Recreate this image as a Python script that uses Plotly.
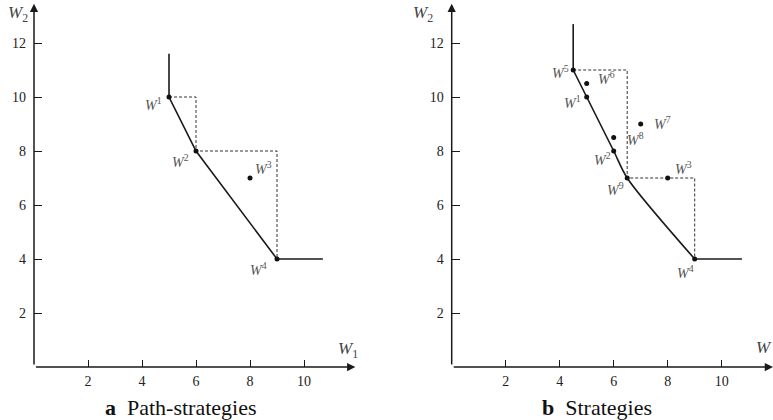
import plotly.graph_objects as go

W, H = 773, 420
PX_PER_UNIT = 27.0
SERIF = "Liberation Serif"

# ---- panel a: path-strategies ----
a_pts_x = [5, 6, 8, 9]
a_pts_y = [10, 8, 7, 4]
a_pts_sup = ["1", "2", "3", "4"]

a_front_x = [5, 5, 6, 9, 10.7]
a_front_y = [11.6, 10, 8, 4, 4]

a_stair_x = [5, 6, 6, 9, 9]
a_stair_y = [10, 10, 8, 8, 4]

# ---- panel b: strategies ----
b_pts_x = [5, 6, 8, 9, 4.5, 5, 7, 6, 6.5]
b_pts_y = [10, 8, 7, 4, 11, 10.5, 9, 8.5, 7]
b_pts_sup = ["1", "2", "3", "4", "5", "6", "7", "8", "9"]

b_ray_up_x = [4.5, 4.5]
b_ray_up_y = [12.7, 11]
b_curve_x = [4.5, 5, 6, 6.5, 9]
b_curve_y = [11, 10, 8, 7, 4]
b_ray_right_x = [9, 10.75]
b_ray_right_y = [4, 4]

b_stair_x = [4.5, 6.5, 6.5, 9, 9]
b_stair_y = [11, 11, 7, 7, 4]

tick_vals_x = [2, 4, 6, 8, 10]
tick_vals_y = [2, 4, 6, 8, 10, 12]

# label offsets (pixels) and anchors for each point label
a_label_pos = {
    "1": ("right", -5, -7),
    "2": ("right", -5, -10),
    "3": ("left", 3, 10),
    "4": ("right", -8, -10),
}
b_label_pos = {
    "1": ("right", -4, -5),
    "2": ("right", -1, -8),
    "3": ("left", 5, 10),
    "4": ("right", 1, -13),
    "5": ("right", -2, -2),
    "6": ("left", 9, 6),
    "7": ("left", 11, 1),
    "8": ("left", 11, -1),
    "9": ("right", -1, -11),
}

# pixel geometry of the two panels
x0_px = {"a": 34.0, "b": 451.7}
y0_px = 367.0
x_max = {"a": 12.0, "b": (W - 451.7) / PX_PER_UNIT}
y_max = y0_px / PX_PER_UNIT

fig = go.Figure()

line_col = "#1a1a1a"


def add_panel(xa, ya, front_traces, stair_x, stair_y, px, py):
    for fx, fy, shape in front_traces:
        fig.add_trace(go.Scatter(
            x=fx, y=fy, mode="lines", xaxis=xa, yaxis=ya,
            line=dict(color=line_col, width=1.6, shape=shape, smoothing=0.8),
            hoverinfo="skip", showlegend=False))
    fig.add_trace(go.Scatter(
        x=stair_x, y=stair_y, mode="lines", xaxis=xa, yaxis=ya,
        line=dict(color="#333333", width=1, dash="3px,2px"),
        hoverinfo="skip", showlegend=False))
    fig.add_trace(go.Scatter(
        x=px, y=py, mode="markers", xaxis=xa, yaxis=ya,
        marker=dict(color="#111111", size=5),
        hoverinfo="skip", showlegend=False))


add_panel("x", "y",
          [(a_front_x, a_front_y, "linear")],
          a_stair_x, a_stair_y, a_pts_x, a_pts_y)
add_panel("x2", "y2",
          [(b_ray_up_x, b_ray_up_y, "linear"),
           (b_curve_x, b_curve_y, "spline"),
           (b_ray_right_x, b_ray_right_y, "linear")],
          b_stair_x, b_stair_y, b_pts_x, b_pts_y)

annotations = []

# point labels
for xs, ys, sups, pos, xr, yr in [
    (a_pts_x, a_pts_y, a_pts_sup, a_label_pos, "x", "y"),
    (b_pts_x, b_pts_y, b_pts_sup, b_label_pos, "x2", "y2"),
]:
    for xv, yv, s in zip(xs, ys, sups):
        anchor, dx, dy = pos[s]
        annotations.append(dict(
            x=xv, y=yv, xref=xr, yref=yr, showarrow=False,
            text=f"<i>W</i><sup>{s}</sup>",
            xanchor=anchor, yanchor="middle", xshift=dx, yshift=dy,
            font=dict(family=SERIF, size=14, color="#555555")))

# axis arrows
for key, xr, yr in [("a", "x", "y"), ("b", "x2", "y2")]:
    annotations.append(dict(
        x=11.9, y=0, ax=0, ay=0, xref=xr, yref=yr, axref=xr, ayref=yr,
        text=" ", showarrow=True, arrowhead=2, arrowsize=1.1,
        arrowwidth=1.5, arrowcolor=line_col, font=dict(size=2)))
    annotations.append(dict(
        x=0, y=13.45, ax=0, ay=0, xref=xr, yref=yr, axref=xr, ayref=yr,
        text=" ", showarrow=True, arrowhead=2, arrowsize=1.1,
        arrowwidth=1.5, arrowcolor=line_col, font=dict(size=2)))


def paper_x(px):
    return px / W


def paper_y(py):
    return (H - py) / H


# axis titles
title_font = dict(family=SERIF, size=17, color="#444444")
annotations += [
    dict(x=paper_x(6), y=paper_y(14), xref="paper", yref="paper",
         xanchor="left", yanchor="middle", showarrow=False,
         text="<i>W</i><sub>2</sub>", font=title_font),
    dict(x=paper_x(336), y=paper_y(350), xref="paper", yref="paper",
         xanchor="left", yanchor="middle", showarrow=False,
         text="<i>W</i><sub>1</sub>", font=title_font),
    dict(x=paper_x(411), y=paper_y(14), xref="paper", yref="paper",
         xanchor="left", yanchor="middle", showarrow=False,
         text="<i>W</i><sub>2</sub>", font=title_font),
    dict(x=paper_x(754), y=paper_y(347), xref="paper", yref="paper",
         xanchor="left", yanchor="middle", showarrow=False,
         text="<i>W</i>", font=title_font),
]

# panel captions
cap_font = dict(family=SERIF, size=22, color="#111111")
annotations += [
    dict(x=paper_x(181), y=paper_y(407), xref="paper", yref="paper",
         xanchor="center", yanchor="middle", showarrow=False,
         text="<b>a</b>  Path-strategies", font=cap_font),
    dict(x=paper_x(597), y=paper_y(407), xref="paper", yref="paper",
         xanchor="center", yanchor="middle", showarrow=False,
         text="<b>b</b>  Strategies", font=cap_font),
]

tick_font = dict(family=SERIF, size=14, color="#222222")


def x_axis(key):
    left = x0_px[key]
    return dict(
        range=[0, x_max[key]],
        domain=[left / W, min(1.0, (left + x_max[key] * PX_PER_UNIT) / W)],
        tickvals=tick_vals_x, ticks="inside", ticklen=7, tickwidth=1.2,
        tickcolor=line_col, showline=False, showgrid=False, zeroline=False,
        tickfont=tick_font, fixedrange=True, ticklabelstandoff=4)


def y_axis(xa):
    return dict(
        range=[0, y_max], domain=[(H - y0_px) / H, 1.0], anchor=xa,
        tickvals=tick_vals_y, ticks="inside", ticklen=8, tickwidth=1.2,
        tickcolor=line_col, showline=False, showgrid=False, zeroline=False,
        tickfont=tick_font, fixedrange=True, ticklabelstandoff=7)


fig.update_layout(
    width=W, height=H,
    margin=dict(l=0, r=0, t=0, b=0),
    paper_bgcolor="white", plot_bgcolor="white",
    font=dict(family=SERIF),
    xaxis=dict(**x_axis("a"), anchor="y"),
    yaxis=y_axis("x"),
    xaxis2=dict(**x_axis("b"), anchor="y2"),
    yaxis2=y_axis("x2"),
    annotations=annotations,
)

fig.write_html("out.html")
